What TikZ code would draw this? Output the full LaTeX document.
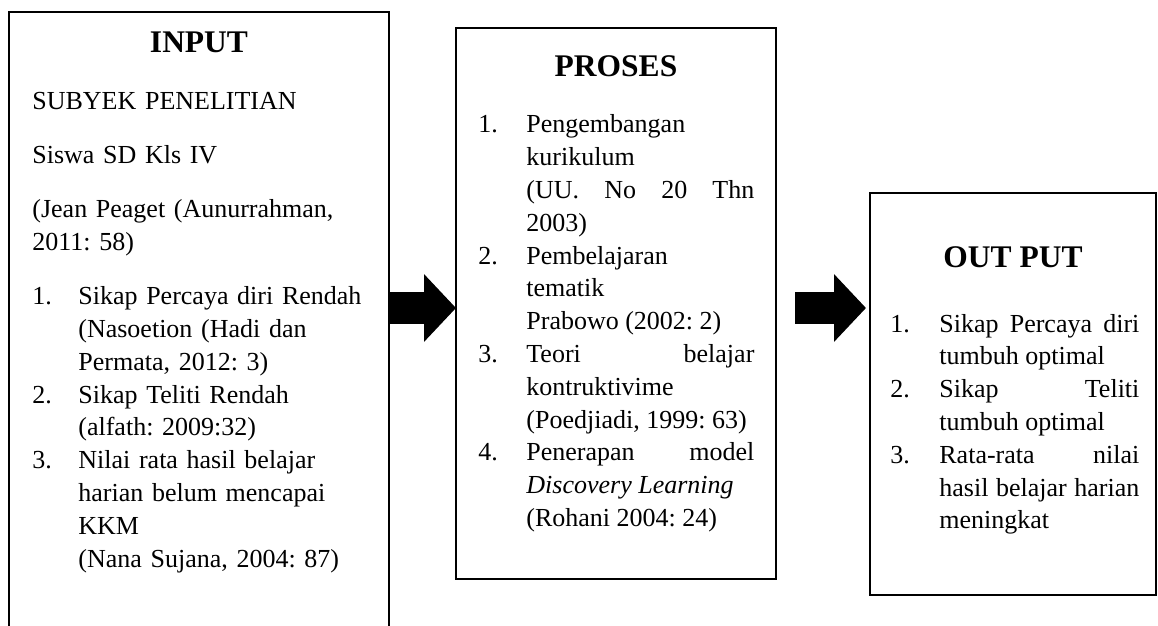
\documentclass[tikz,border=0pt]{standalone}
\usepackage{fontspec}
\setmainfont{Liberation Serif}
\usetikzlibrary{arrows.meta}
\newlength{\itmind}
\newcommand{\itm}[2]{\hangindent=\itmind\hangafter=1\noindent\hbox to \itmind{#1\hfil}#2\par}
\newcommand{\bodytext}{\fontsize{13pt}{16.4pt}\selectfont\frenchspacing}
\hyphenpenalty=10000
\exhyphenpenalty=10000
\hfuzz=4pt
\tikzset{
  box/.style={draw,line width=1pt,shape=rectangle,anchor=north west,inner sep=0pt,outer sep=0pt},
  head/.style={anchor=base,inner sep=0pt,font=\fontsize{15.75pt}{19pt}\selectfont\bfseries},
  body/.style={anchor=base west,inner sep=0pt,font=\bodytext},
  bigarrow/.style={line width=16pt,-{Triangle[length=16pt,width=33pt]}}
}
\begin{document}
\begin{tikzpicture}[x=0.5pt,y=-0.5pt]
\useasboundingbox (0,0) rectangle (1158,626);
\node[box,minimum width=190pt,minimum height=344pt](inbox) at (9,12){};
\node[box,minimum width=160pt,minimum height=275.5pt](probox) at (456,28){};
\node[box,minimum width=143pt,minimum height=201pt](outbox) at (870,193){};
\node[head](inhead) at (199,53){INPUT};
\node[head](prohead) at (616,77){PROSES};
\node[head](outhead) at (1013,267){OUT PUT};
\node[body,text width=172pt,align=left](intext) at (32,110){\setlength{\itmind}{23pt}%
SUBYEK PENELITIAN\par\vspace{10.6pt}
Siswa SD Kls IV\par\vspace{10.6pt}
(Jean Peaget (Aunurrahman,\newline 2011: 58)\par\vspace{10.6pt}
\itm{1.}{Sikap Percaya diri Rendah\newline (Nasoetion (Hadi dan\newline Permata, 2012: 3)}
\itm{2.}{Sikap Teliti Rendah\newline (alfath: 2009:32)}
\itm{3.}{Nilai rata hasil belajar\newline harian belum mencapai\newline KKM\newline (Nana Sujana, 2004: 87)}};
\node[body,text width=138pt,align=justify](protext) at (478,133){\setlength{\itmind}{24pt}%
\itm{1.}{Pengembangan\newline kurikulum\newline (UU. No 20 Thn\linebreak 2003)}
\itm{2.}{Pembelajaran\newline tematik\newline Prabowo (2002: 2)}
\itm{3.}{Teori belajar\linebreak kontruktivime\newline (Poedjiadi, 1999: 63)}
\itm{4.}{Penerapan model\linebreak \textit{Discovery Learning}\newline (Rohani 2004: 24)}};
\node[body,text width=124.5pt,align=justify](outtext) at (890,332){\setlength{\itmind}{24.5pt}%
\itm{1.}{Sikap Percaya diri\linebreak tumbuh optimal}
\itm{2.}{Sikap Teliti\linebreak tumbuh optimal}
\itm{3.}{Rata-rata nilai\linebreak hasil belajar harian\linebreak meningkat}};
\coordinate (mid) at (0,308);
\coordinate (a2) at (795,308);
\draw[bigarrow] (inbox.east |- mid) -- (probox.west |- mid);
\draw[bigarrow,shorten >=2pt] (a2) -- (outbox.west |- mid);
\end{tikzpicture}
\end{document}
